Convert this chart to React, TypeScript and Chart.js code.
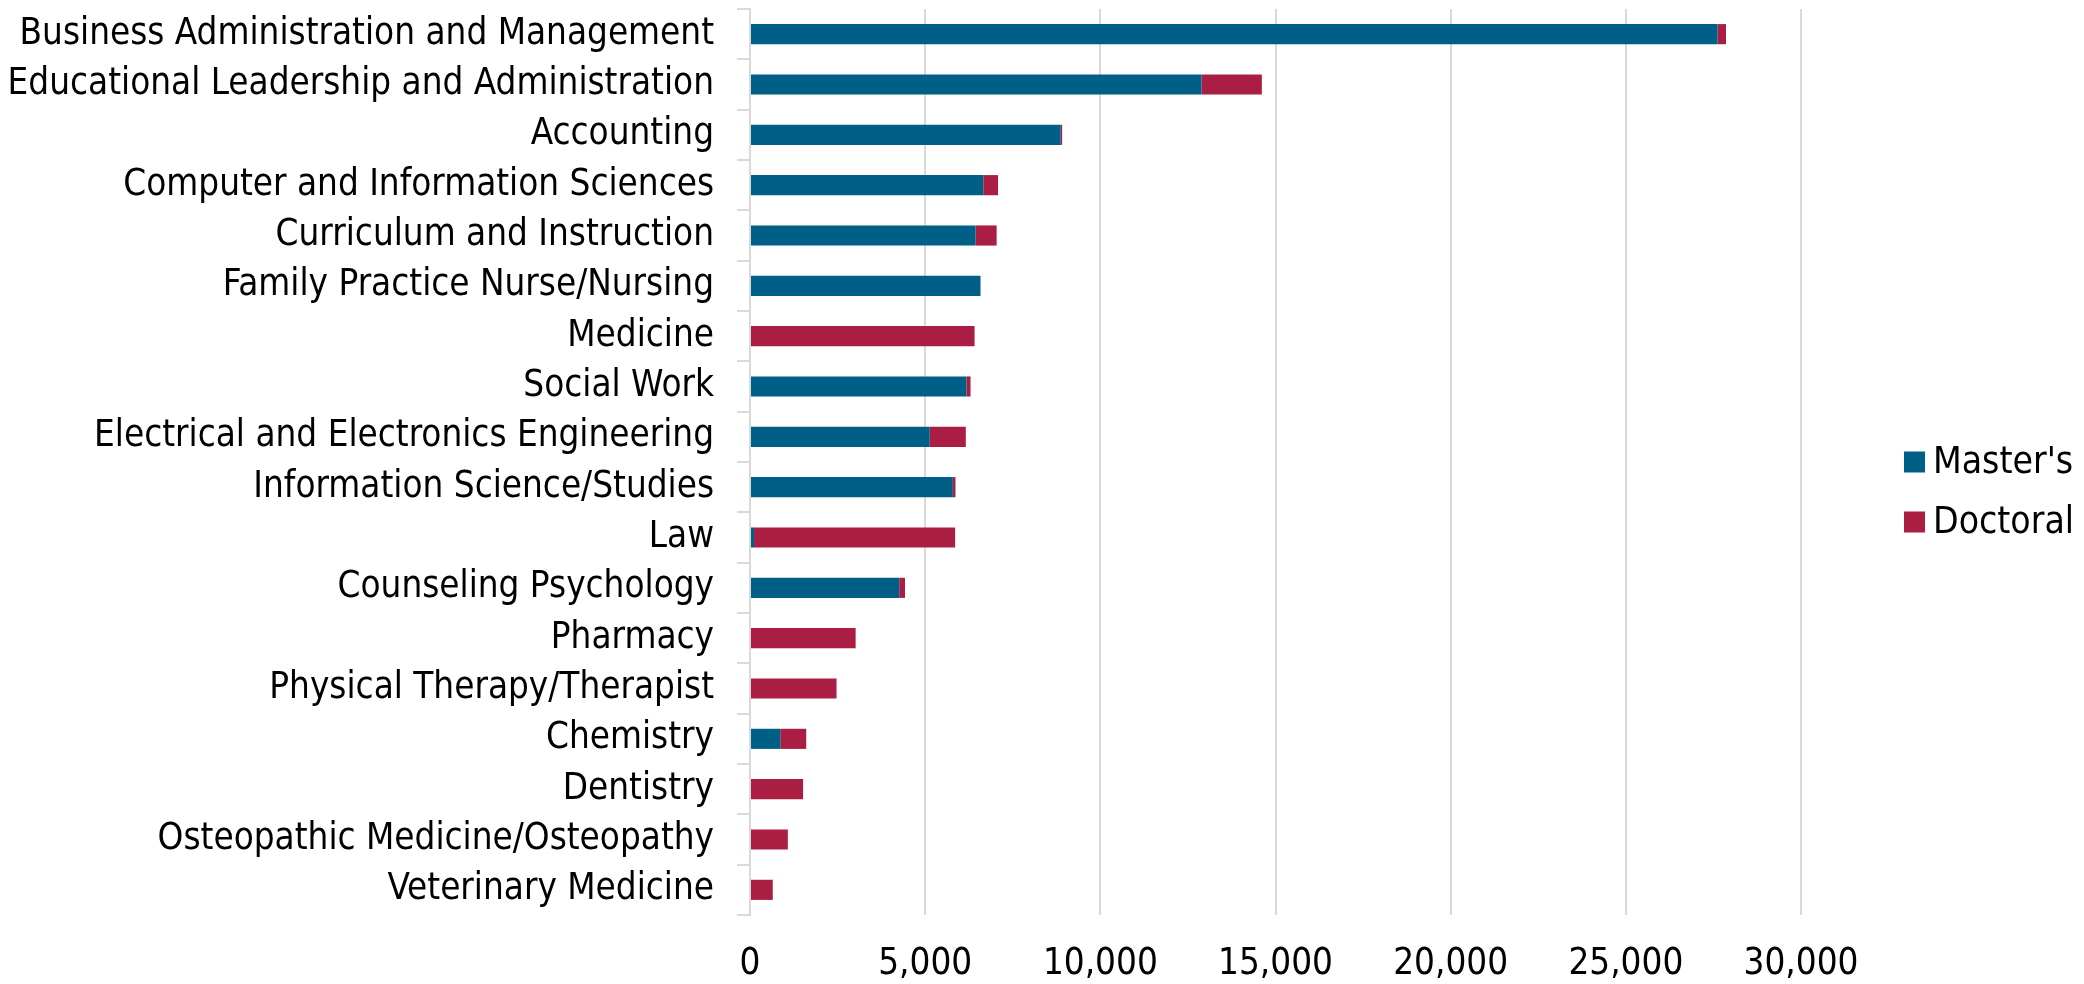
import React, { useEffect, useRef } from "react";
import { Chart, registerables } from "chart.js";

Chart.register(...registerables);

const categories: string[] = [
  "Business Administration and Management",
  "Educational Leadership and Administration",
  "Accounting",
  "Computer and Information Sciences",
  "Curriculum and Instruction",
  "Family Practice Nurse/Nursing",
  "Medicine",
  "Social Work",
  "Electrical and Electronics Engineering",
  "Information Science/Studies",
  "Law",
  "Counseling Psychology",
  "Pharmacy",
  "Physical Therapy/Therapist",
  "Chemistry",
  "Dentistry",
  "Osteopathic Medicine/Osteopathy",
  "Veterinary Medicine",
];

const mastersValues: number[] = [
  27620, 12890, 8870, 6660, 6440, 6580, 0, 6180, 5130, 5790, 115, 4260, 0, 0, 865, 0, 0, 0,
];

const doctoralValues: number[] = [
  240, 1720, 40, 420, 600, 0, 6410, 115, 1030, 75, 5740, 165, 3015, 2470, 740, 1515, 1080, 650,
];

const seriesLabels: string[] = ["Master's", "Doctoral"];
const seriesColors: string[] = ["#005F86", "#A91E42"];
const xTickValues: number[] = [0, 5000, 10000, 15000, 20000, 25000, 30000];

const FONT_FAMILY = "'DejaVu Sans Condensed', 'Liberation Sans', sans-serif";
const FONT_SIZE = 36.5;
const GRID = "#d9d9d9";

const legendPlugin = {
  id: "customLegend",
  afterDraw(chart: any) {
    const ctx = chart.ctx;
    const datasets = chart.data.datasets;
    const spacing = 60;
    const centerY = chart.height / 2;
    const startY = centerY - ((datasets.length - 1) * spacing) / 2;
    ctx.save();
    ctx.font = `${FONT_SIZE + 0.5}px ${FONT_FAMILY}`;
    ctx.textBaseline = "middle";
    ctx.textAlign = "left";
    datasets.forEach((ds: any, i: number) => {
      const y = startY + i * spacing;
      ctx.fillStyle = ds.backgroundColor;
      ctx.fillRect(1904, y - 10.5, 21, 21);
      ctx.fillStyle = "#000";
      ctx.fillText(ds.label, 1933, y + 1);
    });
    ctx.restore();
  },
};

export default function App() {
  const canvasRef = useRef<HTMLCanvasElement | null>(null);

  useEffect(() => {
    const canvas = canvasRef.current;
    if (!canvas) return;
    const chart = new Chart(canvas, {
      type: "bar",
      data: {
        labels: categories,
        datasets: [
          {
            label: seriesLabels[0],
            data: mastersValues,
            backgroundColor: seriesColors[0],
            borderWidth: 0,
            categoryPercentage: 0.8,
            barPercentage: 0.5,
          },
          {
            label: seriesLabels[1],
            data: doctoralValues,
            backgroundColor: seriesColors[1],
            borderWidth: 0,
            categoryPercentage: 0.8,
            barPercentage: 0.5,
          },
        ],
      },
      options: {
        indexAxis: "y",
        animation: false,
        responsive: false,
        maintainAspectRatio: false,
        layout: { padding: { top: 9, right: 283, bottom: 0, left: 0 } },
        plugins: {
          legend: { display: false },
          tooltip: { enabled: false },
          title: { display: false },
        },
        scales: {
          x: {
            type: "linear",
            stacked: true,
            min: 0,
            max: 30000,
            afterBuildTicks: (scale: any) => {
              scale.ticks = xTickValues.map((v) => ({ value: v }));
            },
            afterFit: (scale: any) => {
              scale.height = 69;
              scale.paddingLeft = 0;
              scale.paddingRight = 0;
            },
            grid: { color: GRID, lineWidth: 2, drawTicks: false },
            border: { display: false },
            ticks: {
              color: "#000",
              padding: 28,
              maxRotation: 0,
              font: { family: FONT_FAMILY, size: FONT_SIZE },
              callback: (v: any) => Number(v).toLocaleString("en-US"),
            },
          },
          y: {
            type: "category",
            stacked: true,
            afterFit: (scale: any) => {
              scale.width = 750;
              scale.paddingTop = 0;
              scale.paddingBottom = 0;
            },
            grid: {
              drawOnChartArea: false,
              drawTicks: true,
              tickLength: 13,
              color: GRID,
              lineWidth: 2,
            },
            border: { display: true, color: GRID, width: 2 },
            ticks: {
              color: "#000",
              padding: 23,
              autoSkip: false,
              font: { family: FONT_FAMILY, size: FONT_SIZE },
            },
          },
        },
      },
      plugins: [legendPlugin],
    });
    return () => chart.destroy();
  }, []);

  return (
    <div style={{ position: "fixed", left: 0, top: 0, width: 2084, height: 984, background: "#fff" }}>
      <canvas ref={canvasRef} width={2084} height={984} style={{ width: 2084, height: 984, display: "block" }} />
    </div>
  );
}
